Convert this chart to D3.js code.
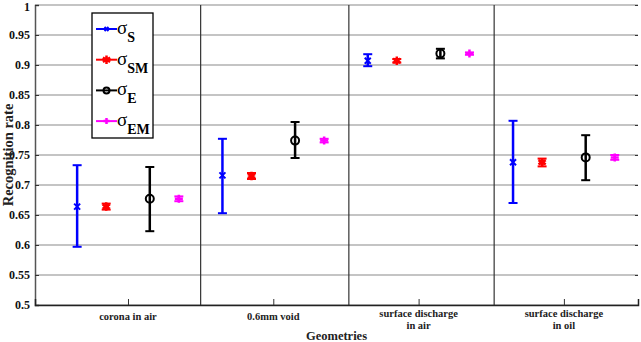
<!DOCTYPE html>
<html>
<head>
<meta charset="utf-8">
<script src="https://cdn.jsdelivr.net/npm/d3@7"></script>
<style>
  body { margin: 0; background: #fff; }
  text { font-family: "Liberation Serif", "Times New Roman", serif; }
</style>
</head>
<body>
<div id="chart"></div>
<script>
// chart values
const geometries = ["corona in air", "0.6mm void", "surface discharge\nin air", "surface discharge\nin oil"];
const seriesNames = ["S", "SM", "E", "EM"];
const seriesColors = ["#0000ff", "#ff0000", "#000000", "#ff00ff"];
const seriesOffsets = [-0.35, -0.15, 0.15, 0.35];
// mean, low, high per geometry
const sigmaS  = [[0.664, 0.597, 0.733], [0.716, 0.653, 0.777], [0.907, 0.898, 0.918], [0.738, 0.670, 0.807]];
const sigmaSM = [[0.664, 0.659, 0.669], [0.715, 0.710, 0.720], [0.907, 0.904, 0.910], [0.738, 0.731, 0.744]];
const sigmaE  = [[0.677, 0.623, 0.730], [0.774, 0.745, 0.805], [0.919, 0.911, 0.927], [0.746, 0.708, 0.783]];
const sigmaEM = [[0.677, 0.673, 0.681], [0.774, 0.771, 0.777], [0.919, 0.917, 0.921], [0.746, 0.742, 0.750]];
const separators = [1.5, 2.52, 3.52];
const yTicks = [0.5, 0.55, 0.6, 0.65, 0.7, 0.75, 0.8, 0.85, 0.9, 0.95, 1];

const width = 641, height = 342;
const margin = { top: 5, right: 3, bottom: 37, left: 35 };

const allSeries = [sigmaS, sigmaSM, sigmaE, sigmaEM];

const svg = d3.select("#chart").append("svg")
  .attr("width", width).attr("height", height);

const x = d3.scaleLinear().domain([0.36, 4.51]).range([margin.left, width - margin.right]);
const y = d3.scaleLinear().domain([0.5, 1]).range([height - margin.bottom, margin.top]);

// grid lines
svg.append("g").selectAll("line").data(yTicks).join("line")
  .attr("x1", x.range()[0]).attr("x2", x.range()[1])
  .attr("y1", d => y(d)).attr("y2", d => y(d))
  .attr("stroke", "#8a8a8a").attr("stroke-width", 1.2);

// group separators
svg.append("g").selectAll("line").data(separators).join("line")
  .attr("x1", d => x(d)).attr("x2", d => x(d))
  .attr("y1", y(1)).attr("y2", y(0.5))
  .attr("stroke", "#333").attr("stroke-width", 1.2);

// y axis
const yAxis = svg.append("g")
  .attr("transform", `translate(${margin.left},0)`)
  .call(d3.axisLeft(y).tickValues(yTicks).tickSize(-4).tickPadding(5).tickFormat(d3.format("")));
yAxis.select(".domain").attr("stroke", "#555").attr("stroke-width", 1.5);
yAxis.selectAll(".tick line").attr("stroke", "#333");
yAxis.selectAll("text").attr("font-size", 12).attr("font-weight", "bold").attr("fill", "#111")
  .attr("dy", d => d === 1 ? "0.45em" : "0.32em");

// right ticks
svg.append("g")
  .attr("transform", `translate(${x.range()[1]},0)`)
  .call(d3.axisRight(y).tickValues(yTicks).tickSize(-3).tickFormat(""))
  .call(g => g.select(".domain").remove())
  .selectAll(".tick line").attr("stroke", "#333");

// x axis
const xAxis = svg.append("g")
  .attr("transform", `translate(0,${y(0.5)})`)
  .call(d3.axisBottom(x).tickValues([1, 2, 3, 4]).tickSize(-6).tickFormat(""));
xAxis.select(".domain").attr("stroke", "#222").attr("stroke-width", 1.5);
xAxis.selectAll(".tick line").attr("stroke", "#333");

// x tick labels
svg.append("g").selectAll("text").data(geometries).join("text")
  .attr("x", (d, i) => x(i + 1))
  .attr("y", d => d.includes("\n") ? y(0.5) + 12 : y(0.5) + 15)
  .attr("text-anchor", "middle")
  .attr("font-size", 10.5).attr("font-weight", "bold").attr("fill", "#222")
  .each(function (d) {
    d.split("\n").forEach((line, k) => {
      d3.select(this).append("tspan")
        .attr("x", d3.select(this).attr("x"))
        .attr("dy", k === 0 ? 0 : 12)
        .text(line);
    });
  });

svg.append("text")
  .attr("x", (x.range()[0] + x.range()[1]) / 2).attr("y", height - 2)
  .attr("text-anchor", "middle")
  .attr("font-size", 12.5).attr("font-weight", "bold").attr("fill", "#222")
  .text("Geometries");

svg.append("text")
  .attr("transform", `translate(13,${y(0.75)}) rotate(-90)`)
  .attr("text-anchor", "middle")
  .attr("font-size", 14.5).attr("font-weight", "bold").attr("fill", "#222")
  .text("Recognition rate");

// marker drawing
function drawMarker(g, type, color, cx, cy, s) {
  if (type === 0) { // x
    g.append("path").attr("d", `M${cx - s},${cy - s}L${cx + s},${cy + s}M${cx - s},${cy + s}L${cx + s},${cy - s}`)
      .attr("stroke", color).attr("stroke-width", 2);
  } else if (type === 1) { // *
    g.append("path").attr("d", d3.symbol(d3.symbolAsterisk, 50)()).attr("transform", `translate(${cx},${cy})`)
      .attr("stroke", color).attr("stroke-width", 2.5).attr("fill", "none");
    g.append("circle").attr("cx", cx).attr("cy", cy).attr("r", s * 0.9).attr("fill", color);
  } else if (type === 2) { // o
    g.append("circle").attr("cx", cx).attr("cy", cy).attr("r", s + 1)
      .attr("stroke", color).attr("stroke-width", 2).attr("fill", "none");
  } else { // +
    g.append("path").attr("d", `M${cx - s - 1},${cy}L${cx + s + 1},${cy}M${cx},${cy - s - 1}L${cx},${cy + s + 1}`)
      .attr("stroke", color).attr("stroke-width", 2.5);
  }
}

// error bars
allSeries.forEach((series, si) => {
  const g = svg.append("g");
  const color = seriesColors[si];
  series.forEach((d, gi) => {
    const cx = x(gi + 1 + seriesOffsets[si]);
    const [m, lo, hi] = d;
    g.append("line").attr("x1", cx).attr("x2", cx).attr("y1", y(lo)).attr("y2", y(hi))
      .attr("stroke", color).attr("stroke-width", 2.5);
    [lo, hi].forEach(v => {
      g.append("line").attr("x1", cx - 4.5).attr("x2", cx + 4.5).attr("y1", y(v)).attr("y2", y(v))
        .attr("stroke", color).attr("stroke-width", 2);
    });
    drawMarker(g, si, color, cx, y(m), 3);
  });
});

// legend
const legend = svg.append("g");
legend.append("rect").attr("x", 92).attr("y", 13).attr("width", 61).attr("height", 125)
  .attr("fill", "#fff").attr("stroke", "#000").attr("stroke-width", 1.3);
seriesNames.forEach((name, i) => {
  const ly = 29 + i * 30.7;
  legend.append("line").attr("x1", 96).attr("x2", 117).attr("y1", ly).attr("y2", ly)
    .attr("stroke", seriesColors[i]).attr("stroke-width", 2);
  drawMarker(legend, i, seriesColors[i], 106.5, ly, 2);
  const t = legend.append("text").attr("x", 117).attr("y", ly + 5).attr("font-size", 19).attr("fill", "#000");
  t.append("tspan").text("σ");
  t.append("tspan").attr("dy", 8).attr("font-size", 14).attr("font-weight", "bold").text(name);
});
</script>
</body>
</html>
